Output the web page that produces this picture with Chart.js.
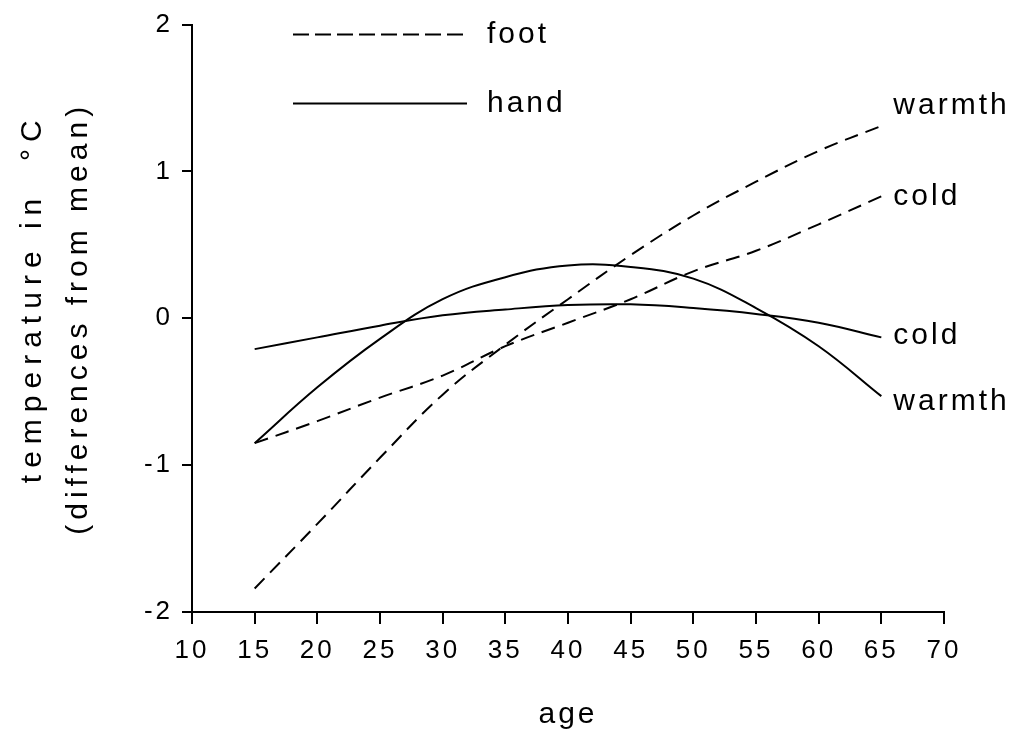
<!DOCTYPE html>
<html>
<head>
<meta charset="utf-8">
<script src="https://cdn.jsdelivr.net/npm/chart.js@4.4.1/dist/chart.umd.min.js"></script>
<style>
  html, body { margin: 0; padding: 0; background: #fff; }
  canvas { display: block; }
</style>
</head>
<body>
<canvas id="age-chart" width="1014" height="739"></canvas>
<script>
var ages = [15, 20, 25, 30, 35, 40, 45, 50, 55, 60, 65];
var footWarmth = [-1.84, -1.40, -0.95, -0.52, -0.18, 0.13, 0.43, 0.70, 0.93, 1.14, 1.31];
var footCold = [-0.85, -0.70, -0.54, -0.39, -0.19, -0.03, 0.13, 0.32, 0.46, 0.64, 0.83];
var handWarmth = [-0.85, -0.47, -0.14, 0.13, 0.28, 0.36, 0.35, 0.27, 0.07, -0.19, -0.53];
var handCold = [-0.21, -0.13, -0.05, 0.02, 0.06, 0.09, 0.095, 0.07, 0.03, -0.03, -0.13];

var xTicks = [10, 15, 20, 25, 30, 35, 40, 45, 50, 55, 60, 65, 70];
var yTicks = [-2, -1, 0, 1, 2];
var endLabels = ['warmth', 'cold', 'warmth', 'cold'];
var legendLabels = ['foot', 'hand'];
var yTitle = ['temperature in  \u00b0C', '(differences from mean)'];

// vertical nudge of the end labels, px
var labelShift = [-20, 0, 6, -2];

Chart.defaults.font.family = '"Liberation Sans", Arial, sans-serif';
Chart.defaults.color = '#000';

function series(values) {
  return ages.map(function(a, i) { return { x: a, y: values[i] }; });
}

function lineSet(label, values, dashed) {
  return {
    label: label,
    data: series(values),
    borderColor: '#000',
    borderWidth: 2,
    borderDash: dashed ? [14, 8] : [],
    pointRadius: 0,
    fill: false,
    tension: 0.4
  };
}

var sketchText = {
  id: 'sketchText',
  beforeDraw: function(chart) {
    chart.ctx.letterSpacing = '3px';
  },
  afterDraw: function(chart) {
    var ctx = chart.ctx;
    var area = chart.chartArea;
    ctx.save();
    ctx.letterSpacing = '3px';
    ctx.fillStyle = '#000';
    ctx.strokeStyle = '#000';
    ctx.lineWidth = 2;
    ctx.font = '30px "Liberation Sans", Arial, sans-serif';
    ctx.textBaseline = 'middle';
    ctx.textAlign = 'left';

    legendLabels.forEach(function(label, i) {
      var y = area.top + 10 + i * 69;
      ctx.setLineDash(i === 0 ? [16, 6] : []);
      ctx.beginPath();
      ctx.moveTo(area.left + 101, y);
      ctx.lineTo(area.left + 275, y);
      ctx.stroke();
      ctx.setLineDash([]);
      ctx.fillText(label, area.left + 295, y);
    });

    chart.data.datasets.forEach(function(ds, i) {
      var pts = chart.getDatasetMeta(i).data;
      var last = pts[pts.length - 1];
      ctx.fillText(endLabels[i], last.x + 12, last.y + labelShift[i]);
    });

    // y axis title, two rotated lines
    var midY = (area.top + area.bottom) / 2;
    ctx.textAlign = 'center';
    ctx.letterSpacing = '7px';
    ctx.save();
    ctx.translate(33, midY - 20);
    ctx.rotate(-Math.PI / 2);
    ctx.fillText(yTitle[0], 0, 0);
    ctx.restore();
    ctx.letterSpacing = '5px';
    ctx.save();
    ctx.translate(79, midY);
    ctx.rotate(-Math.PI / 2);
    ctx.fillText(yTitle[1], 0, 0);
    ctx.restore();
    ctx.restore();
  }
};

var ctx = document.getElementById('age-chart').getContext('2d');
var ageChart = new Chart(ctx, {
  type: 'line',
  data: {
    datasets: [
      lineSet('foot warmth', footWarmth, true),
      lineSet('foot cold', footCold, true),
      lineSet('hand warmth', handWarmth, false),
      lineSet('hand cold', handCold, false)
    ]
  },
  options: {
    responsive: false,
    animation: false,
    layout: { padding: { top: 23, right: 70, bottom: 0, left: 0 } },
    plugins: { legend: { display: false }, tooltip: { enabled: false } },
    scales: {
      x: {
        type: 'linear',
        min: 10,
        max: 70,
        afterBuildTicks: function(s) { s.ticks = xTicks.map(function(v) { return { value: v }; }); },
        afterFit: function(s) { s.height = 127; },
        border: { display: true, color: '#000', width: 2 },
        grid: { display: true, drawOnChartArea: false, drawTicks: true, tickLength: 12, color: '#000', lineWidth: 2 },
        ticks: { color: '#000', font: { size: 26 }, padding: 11, maxRotation: 0, autoSkip: false },
        title: { display: true, text: 'age', color: '#000', font: { size: 30 }, padding: { top: 0, bottom: 6 } }
      },
      y: {
        min: -2,
        max: 2,
        afterBuildTicks: function(s) { s.ticks = yTicks.map(function(v) { return { value: v }; }); },
        afterFit: function(s) { s.width = 192; },
        border: { display: true, color: '#000', width: 2 },
        grid: { display: true, drawOnChartArea: false, drawTicks: true, tickLength: 10, color: '#000', lineWidth: 2 },
        ticks: { color: '#000', font: { size: 26 }, padding: 9 },
        title: { display: false }
      }
    }
  },
  plugins: [sketchText]
});
</script>
</body>
</html>
